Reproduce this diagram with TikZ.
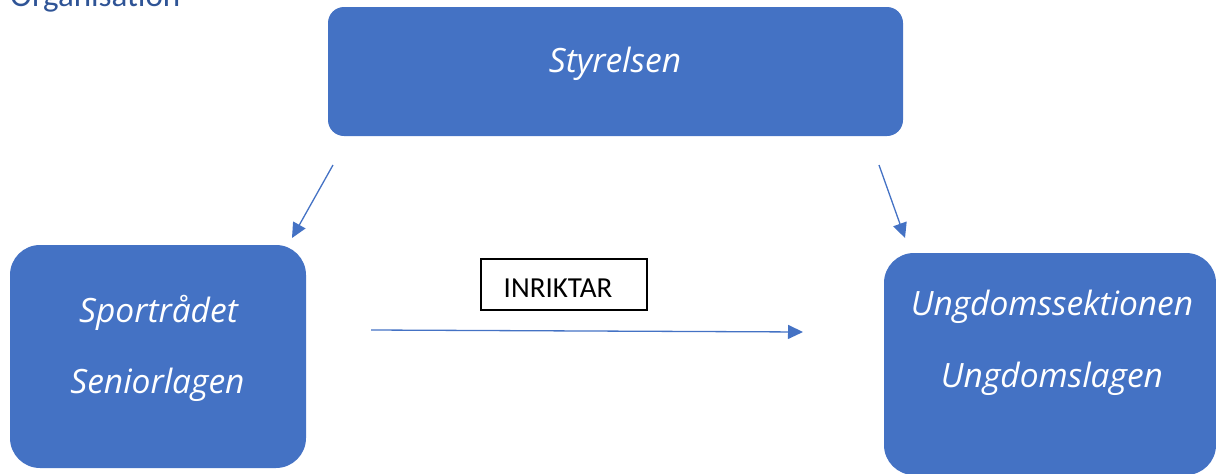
\documentclass[tikz,border=0pt]{standalone}
\usepackage{fontspec}
\usepackage{xcolor}
\usepackage{tikz}
\usetikzlibrary{arrows.meta}
\setmainfont{Carlito}
\newfontfamily\boxfont{Open Sans}
\definecolor{orgblue}{HTML}{4472C4}
\definecolor{headblue}{HTML}{2F5496}

\tikzset{
  orgbox/.style={fill=orgblue, draw=none, outer sep=0pt, inner sep=0pt, rounded corners=#1},
  boxlabel/.style={text=white, anchor=base, inner sep=0pt, font=\boxfont\itshape\fontsize{33.5}{40}\selectfont},
  flow/.style={draw=orgblue, line width=1.3pt, -{Triangle[length=15pt,width=14pt]}},
}

\begin{document}
\begin{tikzpicture}[x=1pt,y=-1pt]
    \useasboundingbox (0,0) rectangle (1216,474);
    \clip (0,0) rectangle (1216,474);

    \node[anchor=base west, inner sep=0pt, text=headblue, font=\fontsize{33}{40}\selectfont] (title) at (10,6) {Organisation};

    \node[orgbox=16pt, minimum width=575pt, minimum height=129pt] (styrelsen) at (615.5,71.5) {};
    \node[boxlabel] (styrelsentext) at (615,72) {Styrelsen};

    \node[orgbox=30pt, minimum width=296pt, minimum height=223pt] (sport) at (158,356.5) {};
    \node[boxlabel] (sporttext) at (158.5,322) {Sportrådet};
    \node[boxlabel] (seniortext) at (157.5,393) {Seniorlagen};

    \node[orgbox=30pt, minimum width=332pt, minimum height=222pt] (ungdom) at (1050,364) {};
    \node[boxlabel] (ungdomtext) at (1052,315) {Ungdomssektionen};
    \node[boxlabel] (ungdomlagtext) at (1052,387) {Ungdomslagen};

    \node[draw=black, line width=1.5pt, minimum width=166pt, minimum height=51pt] (inriktar) at (564,284.5) {};
    \node[anchor=base, inner sep=0pt, font=\fontsize{29}{35}\selectfont] (inriktartext) at (558,297) {INRIKTAR};

    \coordinate (leftstart) at (333,165);
    \coordinate (leftend) at (292,238);
    \coordinate (rightstart) at (879,165);
    \coordinate (rightend) at (905,238);
    \coordinate (midstart) at (371,330);
    \coordinate (midend) at (803,332);

    \draw[flow] (leftstart) -- (leftend);
    \draw[flow] (rightstart) -- (rightend);
    \draw[flow] (midstart) -- (midend);
\end{tikzpicture}
\end{document}
